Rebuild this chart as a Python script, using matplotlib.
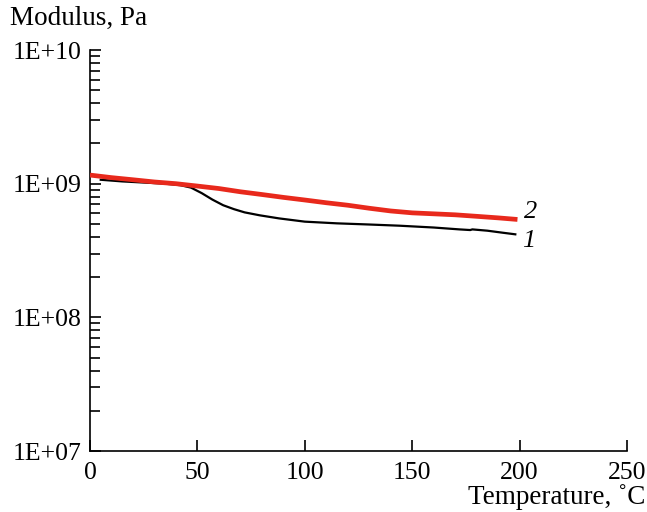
import matplotlib
matplotlib.use("Agg")
import matplotlib.pyplot as plt
from matplotlib.ticker import LogLocator, NullFormatter, FixedLocator

# curve 2 (red)
temp_2 = [0, 10, 20, 30, 40, 50, 60, 70, 80, 90, 100, 110, 120, 130, 140, 150, 160, 170, 180, 190, 199]
mod_2 = [1.16e9, 1.11e9, 1.07e9, 1.03e9, 1.0e9, 0.96e9, 0.92e9, 0.87e9, 0.83e9, 0.79e9, 0.755e9,
         0.72e9, 0.69e9, 0.655e9, 0.625e9, 0.605e9, 0.595e9, 0.585e9, 0.57e9, 0.555e9, 0.54e9]

# curve 1 (black)
temp_1 = [5, 15, 25, 35, 42, 47, 52, 57, 62, 67, 72, 79, 88, 100, 115, 130, 144, 160, 172, 177, 178, 185, 192, 198]
mod_1 = [1.07e9, 1.04e9, 1.02e9, 1.0e9, 0.975e9, 0.935e9, 0.85e9, 0.76e9, 0.69e9, 0.645e9, 0.61e9,
         0.58e9, 0.55e9, 0.52e9, 0.505e9, 0.495e9, 0.485e9, 0.47e9, 0.455e9, 0.45e9, 0.455e9, 0.445e9, 0.43e9, 0.418e9]

plt.rcParams["font.family"] = ["Liberation Serif", "DejaVu Serif"]

fig = plt.figure(figsize=(6.47, 5.12), dpi=100)
ax = fig.add_axes([0.1391, 0.1191, 0.830, 0.7832])

ax.plot(temp_2, mod_2, color="#e8291c", lw=3.4, solid_capstyle="butt", zorder=3)
ax.plot(temp_1, mod_1, color="black", lw=1.6, zorder=2)

ax.set_yscale("log")
ax.set_xlim(0, 250)
ax.set_ylim(1e7, 1e10)

ax.spines["top"].set_visible(False)
ax.spines["right"].set_visible(False)
for s in ("left", "bottom"):
    ax.spines[s].set_linewidth(1.2)

ax.xaxis.set_major_locator(FixedLocator([0, 50, 100, 150, 200, 250]))
ax.yaxis.set_major_locator(FixedLocator([1e7, 1e8, 1e9, 1e10]))
ax.yaxis.set_minor_locator(LogLocator(base=10, subs=range(2, 10)))
ax.yaxis.set_minor_formatter(NullFormatter())
ax.set_yticklabels(["1E+07", "1E+08", "1E+09", "1E+10"])

ax.tick_params(axis="both", which="major", direction="in", length=8, width=1.2,
               labelsize=18.5)
ax.tick_params(axis="y", which="minor", direction="in", length=7, width=1.2)
ax.tick_params(axis="y", which="major", pad=6)
ax.tick_params(axis="x", which="major", pad=8)

ax.text(202, 6.1e8, "2", fontsize=19, style="italic", ha="left", va="center")
ax.text(201, 3.75e8, "1", fontsize=19, style="italic", ha="left", va="center")

fig.text(10 / 647, 1 - 18 / 512, "Modulus, Pa", fontsize=19.5, ha="left", va="center")
fig.text(645 / 647, 1 - 497 / 512, "Temperature, \u02daC", fontsize=19.5, ha="right", va="center")

fig.savefig("out.png", dpi=100)
